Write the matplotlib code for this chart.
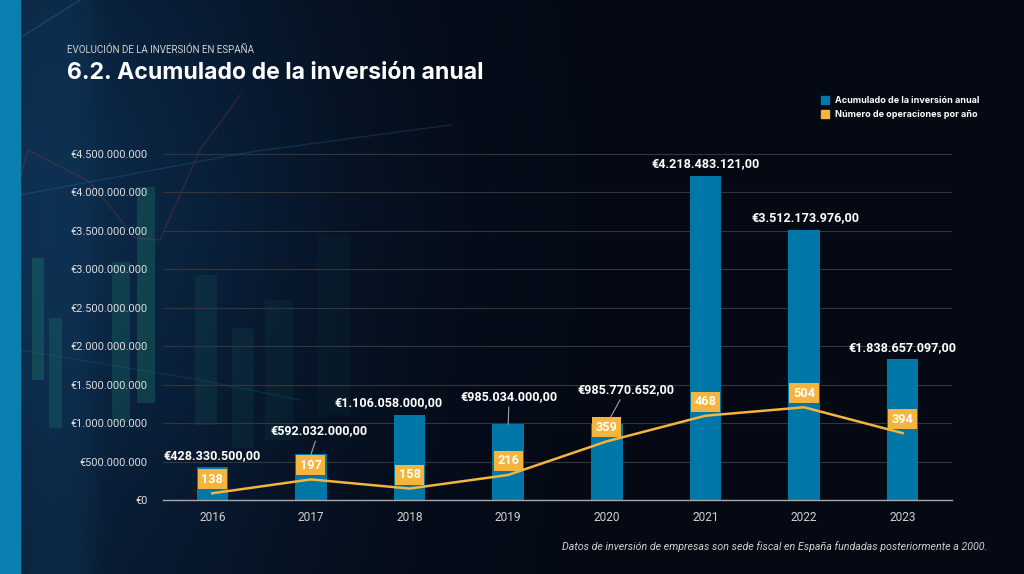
import numpy as np
import matplotlib.pyplot as plt
from matplotlib.patches import Patch, Rectangle
from matplotlib.ticker import FuncFormatter

years = ["2016", "2017", "2018", "2019", "2020", "2021", "2022", "2023"]
inversion = [428330500, 592032000, 1106058000, 985034000,
             985770652, 4218483121, 3512173976, 1838657097]
operaciones = [138, 197, 158, 216, 359, 468, 504, 394]

serie_barras = "Acumulado de la inversión anual"
serie_linea = "Número de operaciones por año"
titulo = "6.2. Acumulado de la inversión anual"
subtitulo = "EVOLUCIÓN DE LA INVERSIÓN EN ESPAÑA"
nota = "Datos de inversión de empresas son sede fiscal en España fundadas posteriormente a 2000."

# label placement (pixels, relative to bar top) - tweaked by eye
label_offsets = [(0, 11), (8, 24), (-21, 12), (1, 28), (19, 35), (0, 12), (1, 12), (0, 11)]
leader = [False, True, False, True, True, False, False, False]

BG = "#040914"
BAR = "#0077a6"
ORANGE = "#f4b43e"
W, H = 1024, 574


def euro(v, decimals=0):
    s = f"{v:,.{decimals}f}"
    return "€" + s.replace(",", "#").replace(".", ",").replace("#", ".")


fig = plt.figure(figsize=(W / 100, H / 100), dpi=100, facecolor=BG)

# decorative background (pixel coords)
bg = fig.add_axes([0, 0, 1, 1], zorder=-10)
bg.set_xlim(0, W)
bg.set_ylim(H, 0)
bg.axis("off")
xx = np.linspace(0, W, 512)
yy = np.linspace(0, H, 288)
X, Y = np.meshgrid(xx, yy)
glow = np.exp(-((X - 30) / 300) ** 2) * (0.5 + 0.5 * np.exp(-((Y - 220) / 280) ** 2))
base = np.array([4, 9, 20]) / 255
tint = np.array([12, 42, 74]) / 255
img = base + glow[..., None] * (tint - base)
band = np.exp(-((X - 55) / 40) ** 4) * 0.3
img = img + band[..., None] * (np.array([18, 66, 104]) / 255 - img)
bg.imshow(np.clip(img, 0, 1), extent=(0, W, H, 0), aspect="auto", interpolation="bilinear")
bg.add_patch(Rectangle((0, 0), 20, H, color="#0a7fb0"))
for x0, y0, w, h, a in [(32, 258, 12, 122, 0.3), (49, 318, 13, 110, 0.25), (112, 262, 18, 160, 0.25),
                        (137, 187, 18, 216, 0.3), (195, 275, 22, 150, 0.13), (232, 328, 22, 120, 0.1),
                        (265, 300, 28, 140, 0.08), (318, 235, 32, 180, 0.06)]:
    bg.add_patch(Rectangle((x0, y0), w, h, color="#1f8a6e", alpha=a, lw=0))
bg.plot([20, 28, 90, 135, 160, 200, 240], [180, 150, 182, 238, 240, 150, 95], color="#9a3a40", lw=1, alpha=0.3)
bg.plot([20, 250, 450], [195, 152, 125], color="#2a8ab8", lw=1, alpha=0.22)
bg.plot([20, 200, 300], [350, 380, 400], color="#2a8ab8", lw=1, alpha=0.16)
bg.plot([20, 80], [38, 0], color="#2a8ab8", lw=1, alpha=0.3)

# main chart
ax = fig.add_axes([163 / W, 74 / H, 789 / W, 353.7 / H])
ax.set_facecolor("none")
xpos = np.arange(len(years))
ax.bar(xpos, inversion, width=0.32, color=BAR, zorder=2)
ax.set_xlim(-0.5, len(years) - 0.5)
ax.set_ylim(0, 4.6e9)
ax.set_yticks(np.arange(0, 4.5e9 + 1, 5e8))
ax.yaxis.set_major_formatter(FuncFormatter(lambda v, p: euro(v)))
ax.set_xticks(xpos)
ax.set_xticklabels(years)
ax.grid(axis="y", color="#34363c", lw=0.8, zorder=0)
for s in ["top", "right", "left"]:
    ax.spines[s].set_visible(False)
ax.spines["bottom"].set_color("#a8a8a8")
ax.spines["bottom"].set_linewidth(1)
ax.tick_params(axis="y", length=0, pad=11, labelsize=7.9, labelcolor="#dcdcdc")
ax.tick_params(axis="x", length=0, pad=8, labelsize=8.6, labelcolor="#d0d0d0")
for lab in ax.get_xticklabels() + ax.get_yticklabels():
    lab.set_family("Roboto")

for i, v in enumerate(inversion):
    dx, dy = label_offsets[i]
    kw = {}
    if leader[i]:
        kw["arrowprops"] = dict(arrowstyle="-", color="#a0a0a0", lw=0.8, shrinkA=1, shrinkB=0)
    ax.annotate(euro(v, 2), (i, v), xytext=(dx, dy), textcoords="offset pixels",
                ha="center", va="center", color="white", fontsize=9.1,
                fontweight="bold", family="Roboto", zorder=3, **kw)

# operaciones on a hidden second axis
ax2 = ax.twinx()
ax2.set_ylim(109.4, 1614.5)
ax2.axis("off")
ax2.plot(xpos, operaciones, color=ORANGE, lw=1.8, zorder=2)
for i, n in enumerate(operaciones):
    ax2.annotate(str(n), (i, n), xytext=(0, 14), textcoords="offset pixels",
                 ha="center", va="center", color="white", fontsize=9.2, fontweight="bold",
                 family="Roboto", zorder=4,
                 bbox=dict(boxstyle="square,pad=0.28", fc=ORANGE, ec="none"))

# texts
fig.text(67 / W, 1 - 53 / H, subtitulo, fontsize=7, color="#d2d2d2", family="Roboto",
         va="baseline")
fig.text(67 / W, 1 - 79 / H, titulo, fontsize=16.6, color="white", family="Inter",
         fontweight="bold", va="baseline")
fig.legend(handles=[Patch(color=BAR), Patch(color=ORANGE)], labels=[serie_barras, serie_linea],
           loc="upper left", bbox_to_anchor=(813 / W, 1 - 88 / H), frameon=False,
           handlelength=0.9, handleheight=0.9, handletextpad=0.6, labelspacing=0.55,
           labelcolor="white", prop=dict(family="Inter", weight="bold", size=6.5))
fig.text(987 / W, 1 - 547 / H, nota, ha="right", va="center", fontsize=7.7, style="italic",
         color="#d0d0d0", family="Roboto")

fig.savefig("out.png", dpi=100, facecolor=BG)
